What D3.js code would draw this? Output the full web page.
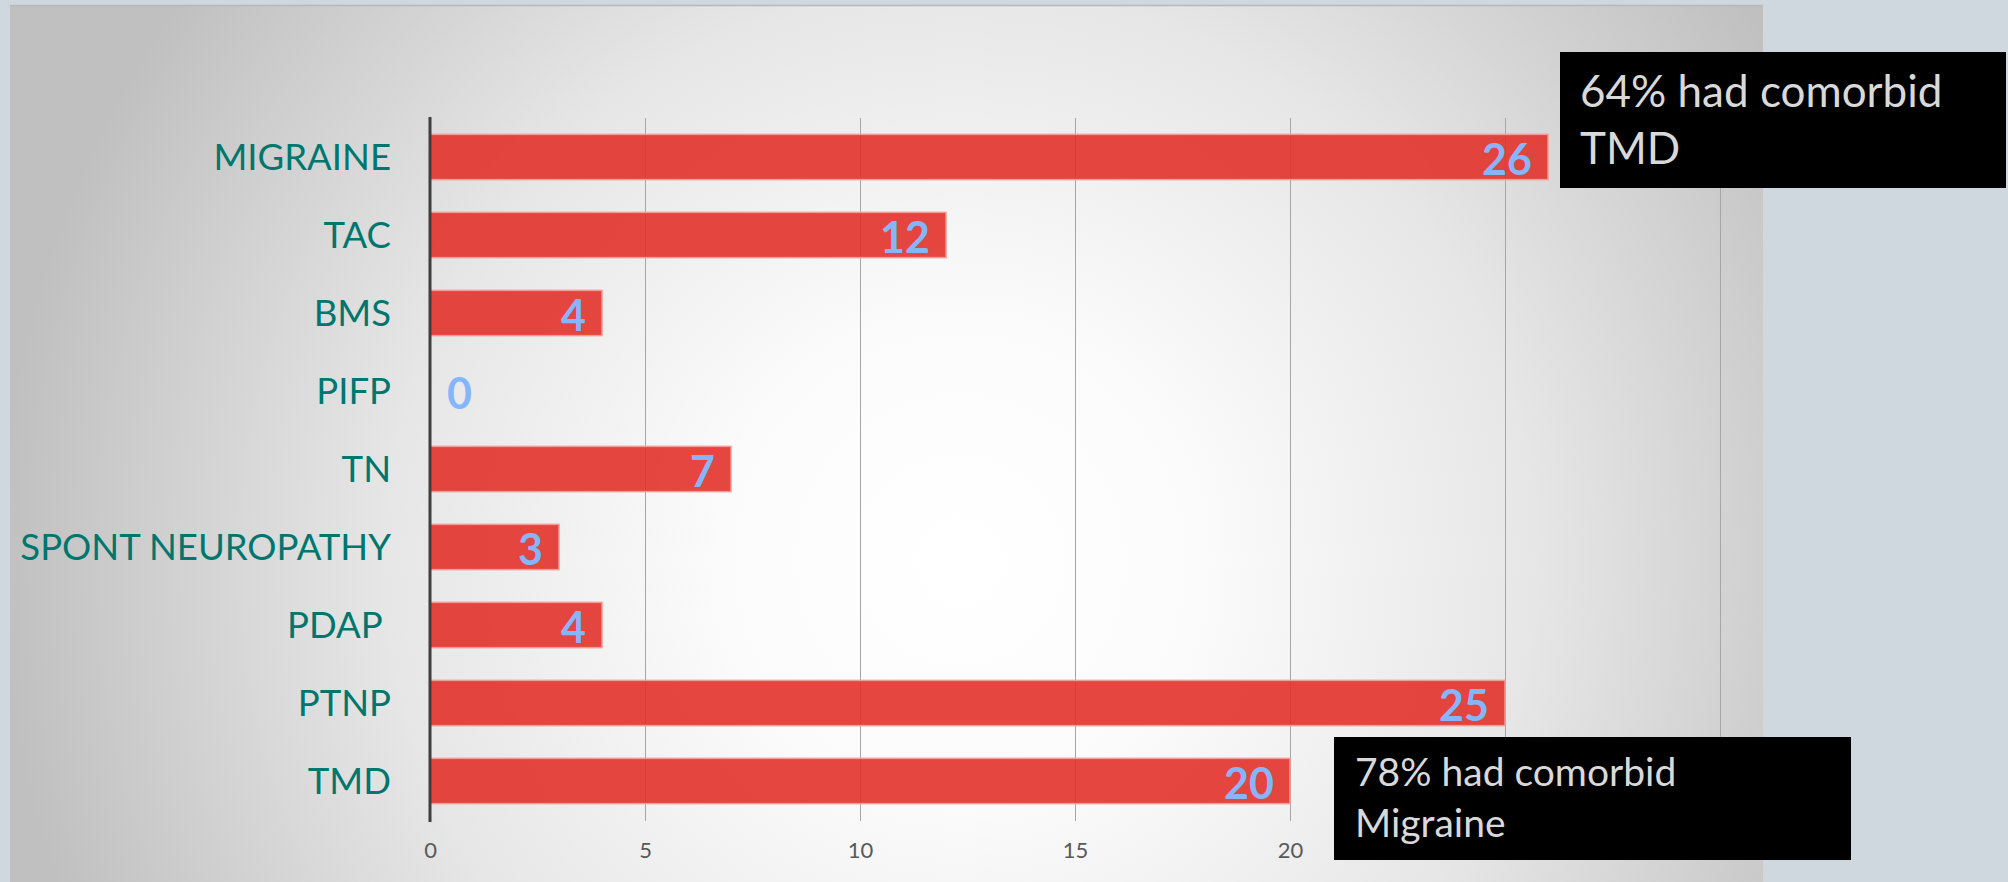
<!DOCTYPE html>
<html>
<head>
<meta charset="utf-8">
<script src="https://cdn.jsdelivr.net/npm/d3@7"></script>
<style>
  html, body { margin: 0; padding: 0; background: #CFD8DF; overflow: hidden; }
  svg { display: block; }
</style>
</head>
<body>
<svg id="chart" width="2008" height="882"></svg>
<script>
// ---- data ----
const categories = ["MIGRAINE", "TAC", "BMS", "PIFP", "TN", "SPONT NEUROPATHY", "PDAP ", "PTNP", "TMD"];
const values = [26, 12, 4, 0, 7, 3, 4, 25, 20];
const tickValues = [0, 5, 10, 15, 20, 25, 30];
const note1Lines = ["64% had comorbid", "TMD"];
const note2Lines = ["78% had comorbid", "Migraine"];

const svg = d3.select("#chart");
const W = 2008, H = 882;

// background
svg.append("rect").attr("width", W).attr("height", H).attr("fill", "#CFD8DF");
const defs = svg.append("defs");
const rg = defs.append("radialGradient").attr("id", "bg")
  .attr("gradientUnits", "userSpaceOnUse")
  .attr("cx", 960).attr("cy", 560).attr("r", 960);
rg.append("stop").attr("offset", 0).attr("stop-color", "#ffffff");
rg.append("stop").attr("offset", 0.25).attr("stop-color", "#fbfbfb");
rg.append("stop").attr("offset", 0.6).attr("stop-color", "#e6e6e6");
rg.append("stop").attr("offset", 1).attr("stop-color", "#c0c0c0");
svg.append("rect").attr("x", 10).attr("y", 5).attr("width", 1753).attr("height", 900)
  .attr("fill", "url(#bg)");
svg.append("line").attr("x1", 10).attr("x2", 1763).attr("y1", 5.5).attr("y2", 5.5)
  .attr("stroke", "#b8b8b8").attr("stroke-width", 1.5);

// scales
const x = d3.scaleLinear().domain([0, 30]).range([430, 1720]);
const y = d3.scaleBand().domain(categories).range([118, 820])
  .paddingInner(0.42).paddingOuter(0.21);

// gridlines
svg.append("g").selectAll("line").data(tickValues.filter(t => t > 0)).join("line")
  .attr("x1", d => x(d) + 0.5).attr("x2", d => x(d) + 0.5)
  .attr("y1", 118).attr("y2", 821)
  .attr("stroke", "#a6a6a6").attr("stroke-width", 1);

// tick labels (x axis)
const xAxis = d3.axisBottom(x).tickValues(tickValues).tickSize(0).tickPadding(0);
const gx = svg.append("g").attr("transform", "translate(0,842)").call(xAxis);
gx.select(".domain").remove();
gx.selectAll("text").attr("font-family", "Lato, 'Open Sans', sans-serif")
  .attr("font-size", 22).attr("fill", "#595959").attr("dy", "0.71em");

// bars
svg.append("g").selectAll("rect").data(values).join("rect")
  .attr("x", x(0))
  .attr("y", (d, i) => y(categories[i]))
  .attr("width", d => x(d) - x(0))
  .attr("height", y.bandwidth())
  .attr("fill", "#E3322B")
  .attr("fill-opacity", 0.9)
  .attr("stroke", "#F29A96")
  .attr("stroke-width", d => d > 0 ? 1.5 : 0);

// value labels
svg.append("g").selectAll("text").data(values).join("text")
  .attr("x", d => d > 0 ? x(d) - 16 : x(0) + 17)
  .attr("y", (d, i) => y(categories[i]) + y.bandwidth() / 2 + 1)
  .attr("text-anchor", d => d > 0 ? "end" : "start")
  .attr("dominant-baseline", "central")
  .attr("font-family", "Lato, 'Open Sans', sans-serif")
  .attr("font-weight", "bold")
  .attr("font-size", 43)
  .attr("fill", "#86B6FA")
  .text(d => d);

// category axis
const yAxis = d3.axisLeft(y).tickSize(0).tickPadding(39);
const gy = svg.append("g").attr("transform", `translate(${x(0)},0)`).call(yAxis);
gy.select(".domain").remove();
gy.selectAll("text")
  .attr("font-family", "Lato, 'Open Sans', sans-serif")
  .attr("font-size", 36.5)
  .attr("fill", "#00766F")
  .style("white-space", "pre")
  .attr("dy", "0.36em");

// axis line
svg.append("line").attr("x1", x(0)).attr("x2", x(0)).attr("y1", 117).attr("y2", 822)
  .attr("stroke", "#3f3f3f").attr("stroke-width", 3);

// note boxes
function note(bx, by, bw, bh, lines, tx, ty, lh, fs) {
  const g = svg.append("g");
  g.append("rect").attr("x", bx).attr("y", by).attr("width", bw).attr("height", bh).attr("fill", "#000");
  g.selectAll("text").data(lines).join("text")
    .attr("x", tx).attr("y", (d, i) => ty + i * lh)
    .attr("font-family", "Lato, 'Open Sans', sans-serif")
    .attr("font-size", fs).attr("fill", "#D9D9D9")
    .text(d => d);
}
note(1560, 52, 446, 136, note1Lines, 1580, 107, 57, 44);
note(1334, 737, 517, 123, note2Lines, 1355, 786, 51, 39);
</script>
</body>
</html>
